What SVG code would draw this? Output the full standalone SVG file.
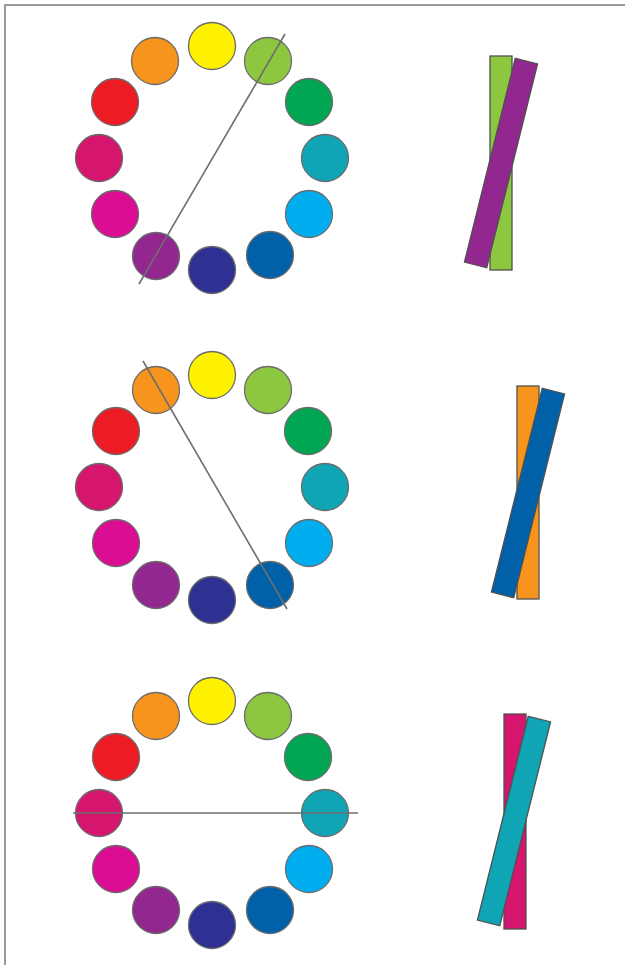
<svg xmlns="http://www.w3.org/2000/svg" width="625" height="965" viewBox="0 0 625 965">
<style>
.c{stroke:#6b6b6b;stroke-width:1.3}
.bar{stroke:#505050;stroke-width:1.3}
.ln{stroke:#6e6e6e;stroke-width:1.6;fill:none}
.y{fill:#FFF200}.lg{fill:#8DC63F}.g{fill:#00A651}.t{fill:#0FA5B5}.s{fill:#00AEEF}.b{fill:#0061A8}
.n{fill:#2E3192}.p{fill:#92278F}.m{fill:#DA0D93}.cr{fill:#D6156F}.r{fill:#ED1C24}.o{fill:#F7941D}
</style>
<rect width="625" height="965" fill="#ffffff"/>
<path d="M5 965 V5 H625" fill="none" stroke="#9a9a9a" stroke-width="2"/>

<g id="wheel1">
<circle class="c y" cx="212" cy="46" r="23.5"/>
<circle class="c lg" cx="268" cy="61" r="23.5"/>
<circle class="c g" cx="309" cy="102" r="23.5"/>
<circle class="c t" cx="325" cy="158" r="23.5"/>
<circle class="c s" cx="309" cy="214" r="23.5"/>
<circle class="c b" cx="270" cy="255" r="23.5"/>
<circle class="c n" cx="212" cy="270" r="23.5"/>
<circle class="c p" cx="156" cy="256" r="23.5"/>
<circle class="c m" cx="115" cy="214" r="23.5"/>
<circle class="c cr" cx="99" cy="158" r="23.5"/>
<circle class="c r" cx="115" cy="102" r="23.5"/>
<circle class="c o" cx="155" cy="61" r="23.5"/>
</g>

<g id="wheel2">
<circle class="c y" cx="212" cy="375" r="23.5"/>
<circle class="c lg" cx="268" cy="390" r="23.5"/>
<circle class="c g" cx="308" cy="431" r="23.5"/>
<circle class="c t" cx="325" cy="487" r="23.5"/>
<circle class="c s" cx="309" cy="543" r="23.5"/>
<circle class="c b" cx="270" cy="585" r="23.5"/>
<circle class="c n" cx="212" cy="600" r="23.5"/>
<circle class="c p" cx="156" cy="585" r="23.5"/>
<circle class="c m" cx="116" cy="543" r="23.5"/>
<circle class="c cr" cx="99" cy="487" r="23.5"/>
<circle class="c r" cx="116" cy="431" r="23.5"/>
<circle class="c o" cx="156" cy="390" r="23.5"/>
</g>

<g id="wheel3">
<circle class="c y" cx="212" cy="701" r="23.5"/>
<circle class="c lg" cx="268" cy="716" r="23.5"/>
<circle class="c g" cx="308" cy="757" r="23.5"/>
<circle class="c t" cx="325" cy="813" r="23.5"/>
<circle class="c s" cx="309" cy="869" r="23.5"/>
<circle class="c b" cx="270" cy="910" r="23.5"/>
<circle class="c n" cx="212" cy="925" r="23.5"/>
<circle class="c p" cx="156" cy="910" r="23.5"/>
<circle class="c m" cx="116" cy="869" r="23.5"/>
<circle class="c cr" cx="99" cy="813" r="23.5"/>
<circle class="c r" cx="116" cy="757" r="23.5"/>
<circle class="c o" cx="156" cy="716" r="23.5"/>
</g>

<g id="connectors">
<line class="ln" x1="285" y1="34" x2="139" y2="284"/>
<line class="ln" x1="143" y1="361" x2="287" y2="609"/>
<line class="ln" x1="73" y1="813" x2="358" y2="813"/>
</g>

<g id="bars1">
<rect class="bar lg" x="490" y="56" width="22" height="214"/>
<rect class="bar p" x="489.5" y="58" width="23" height="210" transform="rotate(14 501 163)"/>
</g>

<g id="bars2">
<rect class="bar o" x="517" y="386" width="22" height="213"/>
<rect class="bar b" x="516.5" y="388" width="23" height="210" transform="rotate(14 528 493)"/>
</g>

<g id="bars3">
<rect class="bar cr" x="504" y="714" width="22" height="215"/>
<rect class="bar t" x="502.5" y="716" width="23" height="210" transform="rotate(14 514 821)"/>
</g>
</svg>
